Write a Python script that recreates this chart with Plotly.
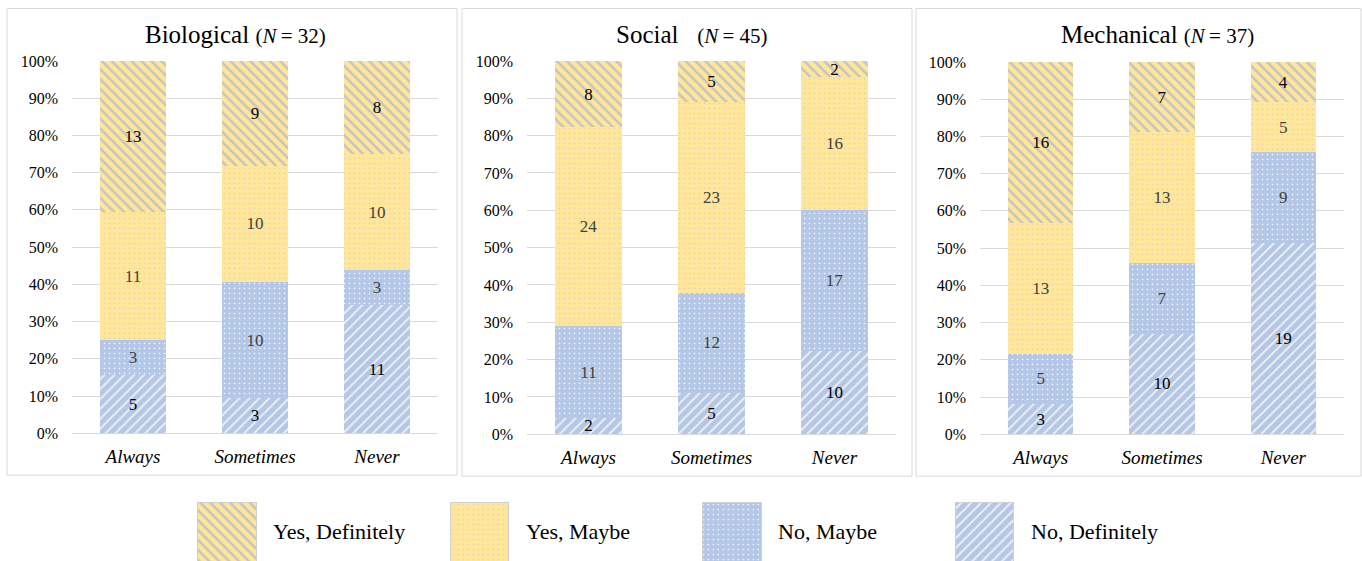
import plotly.graph_objects as go

# ---------------- data ----------------
categories = ["Always", "Sometimes", "Never"]
series_names = ["No, Definitely", "No, Maybe", "Yes, Maybe", "Yes, Definitely"]

panel_titles = ["Biological", "Social", "Mechanical"]
panel_n = [32, 45, 37]

# counts per series (bottom -> top) for Always, Sometimes, Never
bio_no_def = [5, 3, 11]
bio_no_maybe = [3, 10, 3]
bio_yes_maybe = [11, 10, 10]
bio_yes_def = [13, 9, 8]

soc_no_def = [2, 5, 10]
soc_no_maybe = [11, 12, 17]
soc_yes_maybe = [24, 23, 16]
soc_yes_def = [8, 5, 2]

mec_no_def = [3, 10, 19]
mec_no_maybe = [5, 7, 9]
mec_yes_maybe = [13, 13, 5]
mec_yes_def = [16, 7, 4]

y_ticks = [0, 10, 20, 30, 40, 50, 60, 70, 80, 90, 100]
y_tick_labels = ["0%", "10%", "20%", "30%", "40%", "50%", "60%", "70%", "80%", "90%", "100%"]
legend_order = ["Yes, Definitely", "Yes, Maybe", "No, Maybe", "No, Definitely"]

panels = [
    [bio_no_def, bio_no_maybe, bio_yes_maybe, bio_yes_def],
    [soc_no_def, soc_no_maybe, soc_yes_maybe, soc_yes_def],
    [mec_no_def, mec_no_maybe, mec_yes_maybe, mec_yes_def],
]

# ---------------- styles ----------------
W, H = 1362, 577
TOP = 8            # observed vertical offset of the figure in the window
VSCALE = 561 / 577  # observed vertical scale of the figure in the window
FONT = "Liberation Serif"
YELLOW = "#FFE699"
BLUE = "#B4C7E7"
GRID = "#D9D9D9"

styles = {
    "No, Definitely": dict(pattern=dict(shape="/", bgcolor=BLUE, fgcolor="#F2F2F2",
                                        size=7, solidity=0.27, fillmode="replace"),
                           text="#000000"),
    "No, Maybe": dict(pattern=dict(shape=".", bgcolor=BLUE, fgcolor="#FFFFFF",
                                   size=5, solidity=0.08, fillmode="replace"),
                      text="#404040"),
    "Yes, Maybe": dict(pattern=dict(shape=".", bgcolor=YELLOW, fgcolor="#D6D3C8",
                                    size=5, solidity=0.08, fillmode="replace"),
                       text="#404040"),
    "Yes, Definitely": dict(pattern=dict(shape="\\", bgcolor=YELLOW, fgcolor="#C4C4C4",
                                         size=7, solidity=0.36, fillmode="replace"),
                            text="#000000"),
}


def px_x(x):
    return x / W


def px_y(y):
    fy = (y - TOP) / VSCALE
    v = 1 - fy / H
    return min(max(v, 0.0), 0.999)


# plot areas in window pixels: (x0, x1, ytop, ybottom)
areas = [(72, 438, 61, 434), (527, 896, 61, 435), (980, 1344, 62, 435)]
boxes = [(7, 6, 457, 476), (462, 5, 912, 477), (916, 7, 1361, 477)]
title_x = [235, 692, 1157]

fig = go.Figure()

for p, (data, n) in enumerate(zip(panels, panel_n)):
    xa = "x" if p == 0 else f"x{p + 1}"
    ya = "y" if p == 0 else f"y{p + 1}"
    for name, vals in zip(series_names, data):
        st = styles[name]
        pct = [v / n * 100 for v in vals]
        fig.add_trace(go.Bar(
            x=categories, y=pct, name=name, xaxis=xa, yaxis=ya,
            width=0.54,
            marker=dict(color=st["pattern"]["bgcolor"], line=dict(width=0),
                        pattern=st["pattern"]),
            text=[str(v) for v in vals], textposition="inside", textangle=0,
            insidetextanchor="middle", constraintext="none",
            textfont=dict(family=FONT, size=17, color=st["text"]),
            showlegend=False, hoverinfo="skip",
        ))

# legend swatches on their own axis
for name in legend_order:
    st = styles[name]
    fig.add_trace(go.Bar(
        x=[name], y=[1], xaxis="x4", yaxis="y4", width=0.23,
        marker=dict(color=st["pattern"]["bgcolor"],
                    line=dict(width=1, color="#D0D0D0"), pattern=st["pattern"]),
        showlegend=False, hoverinfo="skip",
    ))

layout = dict(
    width=W, height=H, margin=dict(l=0, r=0, t=0, b=0, pad=0),
    autosize=False,
    paper_bgcolor="white", plot_bgcolor="white",
    barmode="stack", bargap=0.46,
    font=dict(family=FONT, color="#000000"),
    uniformtext=dict(minsize=17, mode="show"),
    showlegend=False,
)

for p, (x0, x1, yt, yb) in enumerate(areas):
    sfx = "" if p == 0 else str(p + 1)
    layout["xaxis" + sfx] = dict(
        domain=[px_x(x0), px_x(x1)], anchor="y" + sfx,
        type="category", categoryorder="array", categoryarray=categories,
        range=[-0.5, 2.5], showline=True, linecolor=GRID, linewidth=1,
        showgrid=False, ticks="", ticklabelstandoff=6,
        tickfont=dict(family=FONT, size=19, color="#000000", style="italic"),
        fixedrange=True,
    )
    layout["yaxis" + sfx] = dict(
        domain=[px_y(yb), px_y(yt)], anchor="x" + sfx,
        range=[0, 100], tickmode="array", tickvals=y_ticks, ticktext=y_tick_labels,
        showgrid=True, gridcolor=GRID, gridwidth=1, zeroline=False,
        showline=False, ticks="", ticklabelstandoff=13,
        tickfont=dict(family=FONT, size=16, color="#000000"),
        fixedrange=True,
    )

# legend axis: four slots, 252.5 px each, first centered at x=227
leg_x0 = 227 - 252.5 / 2
layout["xaxis4"] = dict(domain=[px_x(leg_x0), px_x(leg_x0 + 4 * 252.5)], anchor="y4",
                        type="category", categoryorder="array", categoryarray=legend_order,
                        range=[-0.5, 3.5], visible=False, fixedrange=True)
layout["yaxis4"] = dict(domain=[0, px_y(503)], anchor="x4", range=[0, 1],
                        visible=False, fixedrange=True)

shapes = []
for (bx0, by0, bx1, by1) in boxes:
    shapes.append(dict(type="rect", xref="paper", yref="paper",
                       x0=px_x(bx0), x1=px_x(bx1), y0=px_y(by1), y1=px_y(by0),
                       line=dict(color=GRID, width=1), fillcolor="rgba(0,0,0,0)",
                       layer="below"))
layout["shapes"] = shapes

annotations = []
for t, n, tx in zip(panel_titles, panel_n, title_x):
    gap = "\u00a0\u00a0\u00a0" if t == "Social" else "\u00a0"
    annotations.append(dict(
        x=px_x(tx), y=px_y(35), xref="paper", yref="paper",
        xanchor="center", yanchor="middle", showarrow=False,
        text=f"{t}{gap}<span style='font-size:21px'>(<i>N</i>\u2009=\u00a0{n})</span>",
        font=dict(family=FONT, size=25, color="#000000"),
    ))
for name in legend_order:
    annotations.append(dict(
        x=name, y=px_y(532), xref="x4", yref="paper",
        xanchor="left", yanchor="middle", xshift=44, showarrow=False,
        text=name, font=dict(family=FONT, size=22, color="#000000"),
    ))
layout["annotations"] = annotations

fig.update_layout(**layout)
fig.write_html("out.html")
